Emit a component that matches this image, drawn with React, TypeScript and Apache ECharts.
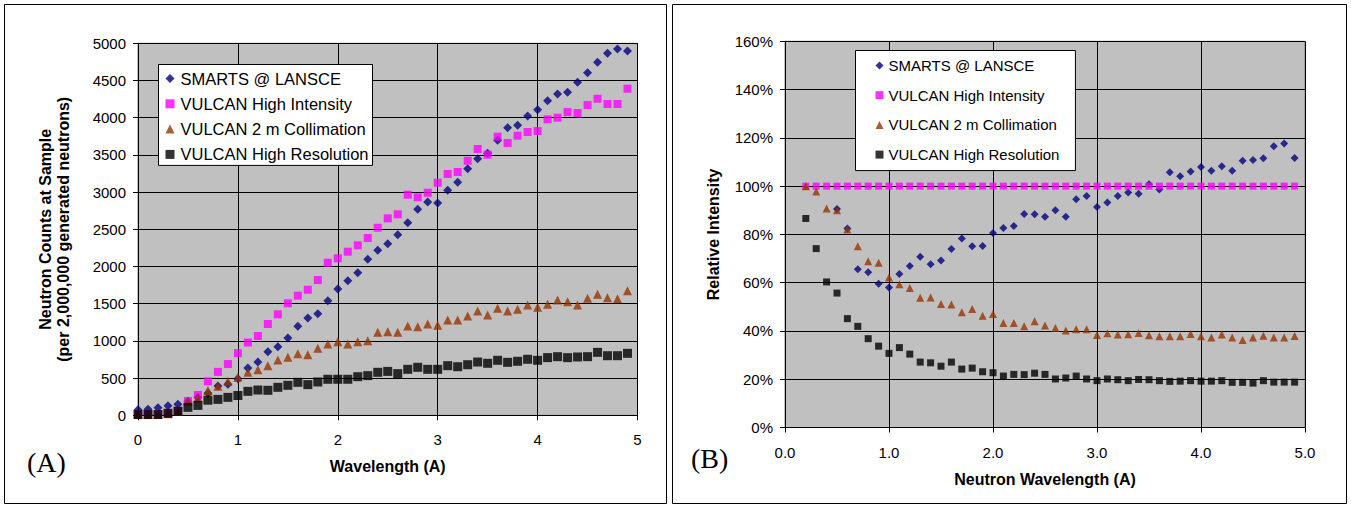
import React, { useEffect, useRef } from "react";
import * as echarts from "echarts";

// ---------- Data ----------
const seriesNames = [
  "SMARTS @ LANSCE",
  "VULCAN High Intensity",
  "VULCAN 2 m Collimation",
  "VULCAN High Resolution",
];

// Panel A: wavelength (A) and neutron counts at sample
const waveA = [
  0, 0.1, 0.2, 0.3, 0.4, 0.5, 0.6, 0.7, 0.8, 0.9,
  1.0, 1.1, 1.2, 1.3, 1.4, 1.5, 1.6, 1.7, 1.8, 1.9,
  2.0, 2.1, 2.2, 2.3, 2.4, 2.5, 2.6, 2.7, 2.8, 2.9,
  3.0, 3.1, 3.2, 3.3, 3.4, 3.5, 3.6, 3.7, 3.8, 3.9,
  4.0, 4.1, 4.2, 4.3, 4.4, 4.5, 4.6, 4.7, 4.8, 4.9,
];
const smartsA = [
  75, 80, 100, 128, 148, 190, 240, 296, 395, 416,
  490, 635, 715, 855, 922, 1039, 1196, 1308, 1366, 1540,
  1697, 1809, 1917, 2097, 2218, 2306, 2427, 2589, 2769, 2867,
  2853, 3024, 3132, 3314, 3449, 3521, 3696, 3865, 3898, 4023,
  4108, 4228, 4318, 4341, 4476, 4605, 4744, 4865, 4923, 4896,
];
const highIntA = [
  15, 15, 15, 25, 60, 192, 273, 457, 584, 689,
  835, 978, 1066, 1227, 1357, 1505, 1608, 1688, 1818, 2051,
  2110, 2199, 2285, 2383, 2521, 2647, 2701, 2965, 2930, 2992,
  3126, 3243, 3270, 3422, 3579, 3503, 3745, 3660, 3758, 3808,
  3821, 3978, 4000, 4076, 4063, 4170, 4255, 4184, 4184, 4390,
];
const collim2mA = [
  12, 12, 12, 22, 55, 190, 235, 335, 392, 459,
  512, 578, 613, 667, 743, 780, 828, 815, 900, 958,
  990, 958, 990, 1003, 1115, 1124, 1115, 1200, 1191, 1227,
  1209, 1281, 1281, 1335, 1402, 1348, 1438, 1402, 1425, 1482,
  1451, 1491, 1550, 1527, 1482, 1572, 1626, 1581, 1568, 1675,
];
const highResA = [
  10, 10, 10, 27, 55, 107, 133, 203, 214, 241,
  266, 322, 340, 336, 376, 403, 443, 412, 448, 484,
  484, 484, 519, 533, 578, 590, 560, 618, 645, 618,
  618, 667, 653, 680, 716, 699, 739, 712, 726, 753,
  739, 775, 788, 775, 784, 788, 846, 801, 801, 833,
];

// Panel B: neutron wavelength (A) and relative intensity (%)
const waveB = [
  0.2, 0.3, 0.4, 0.5, 0.6, 0.7, 0.8, 0.9,
  1.0, 1.1, 1.2, 1.3, 1.4, 1.5, 1.6, 1.7, 1.8, 1.9,
  2.0, 2.1, 2.2, 2.3, 2.4, 2.5, 2.6, 2.7, 2.8, 2.9,
  3.0, 3.1, 3.2, 3.3, 3.4, 3.5, 3.6, 3.7, 3.8, 3.9,
  4.0, 4.1, 4.2, 4.3, 4.4, 4.5, 4.6, 4.7, 4.8, 4.9,
];
const waveBSmarts = [
  0.5, 0.6, 0.7, 0.8, 0.9,
  1.0, 1.1, 1.2, 1.3, 1.4, 1.5, 1.6, 1.7, 1.8, 1.9,
  2.0, 2.1, 2.2, 2.3, 2.4, 2.5, 2.6, 2.7, 2.8, 2.9,
  3.0, 3.1, 3.2, 3.3, 3.4, 3.5, 3.6, 3.7, 3.8, 3.9,
  4.0, 4.1, 4.2, 4.3, 4.4, 4.5, 4.6, 4.7, 4.8, 4.9,
];
const smartsB = [
  90.5, 82.4, 65.6, 64.3, 59.6,
  58.0, 63.6, 66.9, 70.7, 67.6, 69.2, 73.9, 78.3, 75.1, 75.2,
  80.6, 82.6, 83.5, 88.4, 88.3, 87.3, 90.0, 87.3, 94.6, 95.9,
  91.4, 93.2, 95.9, 97.4, 96.8, 100.8, 98.6, 105.8, 104.1, 106.1,
  107.9, 106.4, 108.2, 106.4, 110.5, 110.8, 111.5, 116.5, 117.7, 111.7,
];
const highIntB = [
  100, 100, 100, 100, 100, 100, 100, 100,
  100, 100, 100, 100, 100, 100, 100, 100, 100, 100,
  100, 100, 100, 100, 100, 100, 100, 100, 100, 100,
  100, 100, 100, 100, 100, 100, 100, 100, 100, 100,
  100, 100, 100, 100, 100, 100, 100, 100, 100, 100,
];
const collim2mB = [
  100, 97.8, 90.7, 90.0, 82.0, 75.1, 68.9, 68.3,
  62.1, 59.3, 57.8, 53.8, 53.9, 51.2, 51.0, 47.7, 49.1, 46.3,
  47.0, 43.3, 43.3, 41.9, 44.0, 42.3, 41.2, 40.2, 40.7, 40.7,
  38.3, 39.0, 38.5, 38.6, 39.1, 38.2, 37.8, 37.8, 37.8, 38.7,
  37.8, 37.3, 38.5, 37.3, 36.2, 37.3, 38.0, 37.3, 37.3, 37.9,
];
const highResB = [
  86.6, 74.1, 60.3, 55.7, 45.1, 41.9, 36.8, 33.7,
  30.7, 33.1, 30.4, 27.1, 26.8, 25.4, 27.1, 24.2, 24.6, 23.1,
  22.7, 21.3, 22.0, 21.9, 22.5, 22.0, 20.1, 20.5, 21.3, 20.1,
  19.4, 20.1, 19.8, 19.4, 19.9, 19.8, 19.4, 19.1, 19.2, 19.4,
  19.2, 19.2, 19.4, 18.7, 18.7, 18.4, 19.4, 18.8, 18.8, 18.8,
];

// ---------- Styles ----------
const colors = ["#000080", "#FF00FF", "#993300", "#000000"];
const symbols = ["diamond", "rect", "triangle", "rect"];
const FONT = "'Liberation Sans', Arial, sans-serif";

const pairs = (xs: number[], ys: number[]) => xs.map((x, i) => [x, ys[i]]);

export default function App() {
  const ref = useRef<HTMLDivElement>(null);

  useEffect(() => {
    if (!ref.current) return;
    const chart = echarts.init(ref.current, undefined, { renderer: "svg" });

    const sizesA = [9, 8, 9, 9];
    const sizesB = [8, 7, 8, 7];
    const dataA = [smartsA, highIntA, collim2mA, highResA];
    const seriesA = dataA.map((ys, i) => ({
      type: "scatter",
      name: seriesNames[i],
      xAxisIndex: 0,
      yAxisIndex: 0,
      symbol: symbols[i],
      symbolSize: sizesA[i],
      itemStyle: { color: colors[i] },
      data: pairs(waveA, ys),
      z: 2 + i,
    }));
    const dataB = [
      pairs(waveBSmarts, smartsB),
      pairs(waveB, highIntB),
      pairs(waveB, collim2mB),
      pairs(waveB, highResB),
    ];
    const seriesB = dataB.map((d, i) => ({
      type: "scatter",
      name: seriesNames[i],
      xAxisIndex: 1,
      yAxisIndex: 1,
      symbol: symbols[i],
      symbolSize: sizesB[i],
      itemStyle: { color: colors[i] },
      data: d,
      z: 2 + i,
    }));

    const nameStyle = { fontFamily: FONT, fontWeight: "bold", fontSize: 16, color: "#000" };
    const labelStyle = { fontFamily: FONT, fontSize: 15, color: "#000" };
    const axisCommon = {
      axisLine: { show: true, onZero: false, lineStyle: { color: "#000", width: 1 } },
      axisTick: { show: true, inside: false, length: 5, lineStyle: { color: "#000" } },
      splitLine: { show: true, lineStyle: { color: "#000", width: 1 } },
      nameTextStyle: nameStyle,
    };

    const legendItems = (icons: string[]) =>
      seriesNames.map((n, i) => ({ name: n, icon: icons[i] }));

    const serif = "'Liberation Serif', 'Times New Roman', serif";

    chart.setOption({
      animation: false,
      textStyle: { fontFamily: FONT },
      graphic: [
        {
          type: "rect",
          shape: { x: 4.5, y: 4.5, width: 662, height: 499 },
          style: { fill: "none", stroke: "#000", lineWidth: 1 },
          silent: true,
          z: 0,
        },
        {
          type: "rect",
          shape: { x: 672.5, y: 4.5, width: 674, height: 499 },
          style: { fill: "none", stroke: "#000", lineWidth: 1 },
          silent: true,
          z: 0,
        },
        {
          type: "text",
          x: 27,
          y: 462,
          style: { text: "(A)", fontFamily: serif, fontSize: 28, fill: "#000", verticalAlign: "middle" },
        },
        {
          type: "text",
          x: 691,
          y: 458,
          style: { text: "(B)", fontFamily: serif, fontSize: 28, fill: "#000", verticalAlign: "middle" },
        },
      ],
      grid: [
        {
          left: 138,
          top: 43.3,
          width: 499.5,
          height: 372,
          show: true,
          backgroundColor: "#C0C0C0",
          borderColor: "#808080",
          borderWidth: 1,
        },
        {
          left: 785,
          top: 41.3,
          width: 520,
          height: 386.2,
          show: true,
          backgroundColor: "#C0C0C0",
          borderColor: "#808080",
          borderWidth: 1,
        },
      ],
      legend: [
        {
          data: legendItems(["diamond", "rect", "triangle", "rect"]),
          orient: "vertical",
          left: 158.5,
          top: 64.5,
          backgroundColor: "#fff",
          borderColor: "#000",
          borderWidth: 1,
          borderRadius: 0,
          padding: [5, 4, 2, 7],
          itemWidth: 9,
          itemHeight: 9,
          itemGap: 7.3,
          selectedMode: false,
          textStyle: { fontFamily: FONT, fontSize: 16.5, lineHeight: 18, color: "#000", padding: [0, 0, 0, 1] },
        },
        {
          data: legendItems(["diamond", "rect", "triangle", "rect"]),
          orient: "vertical",
          left: 855.5,
          top: 50.5,
          backgroundColor: "#fff",
          borderColor: "#000",
          borderWidth: 1,
          borderRadius: 0,
          padding: [7, 16, 8, 20],
          itemWidth: 8,
          itemHeight: 8,
          itemGap: 13.7,
          selectedMode: false,
          textStyle: { fontFamily: FONT, fontSize: 15, lineHeight: 16, color: "#000" },
        },
      ],
      xAxis: [
        {
          ...axisCommon,
          gridIndex: 0,
          type: "value",
          min: 0,
          max: 5,
          interval: 1,
          name: "Wavelength (A)",
          nameLocation: "middle",
          nameGap: 43.5,
          axisLabel: { ...labelStyle, margin: 17 },
        },
        {
          ...axisCommon,
          gridIndex: 1,
          type: "value",
          min: 0,
          max: 5,
          interval: 1,
          name: "Neutron Wavelength (A)",
          nameLocation: "middle",
          nameGap: 43.5,
          axisLabel: { ...labelStyle, margin: 17, formatter: (v: number) => v.toFixed(1) },
        },
      ],
      yAxis: [
        {
          ...axisCommon,
          gridIndex: 0,
          type: "value",
          min: 0,
          max: 5000,
          interval: 500,
          name: "Neutron Counts at Sample\n(per 2,000,000 generated neutrons)",
          nameLocation: "middle",
          nameGap: 66,
          nameTextStyle: { ...nameStyle, lineHeight: 18 },
          axisLabel: { ...labelStyle, margin: 12, formatter: (v: number) => `${v}` },
        },
        {
          ...axisCommon,
          gridIndex: 1,
          type: "value",
          min: 0,
          max: 160,
          interval: 20,
          name: "Relative Intensity",
          nameLocation: "middle",
          nameGap: 64,
          axisLabel: { ...labelStyle, margin: 12, formatter: (v: number) => `${v}%` },
        },
      ],
      series: [...seriesA, ...seriesB],
    });

    return () => chart.dispose();
  }, []);

  return (
    <div
      ref={ref}
      style={{ position: "fixed", left: 0, top: 0, width: 1351, height: 506, background: "#fff" }}
    />
  );
}
